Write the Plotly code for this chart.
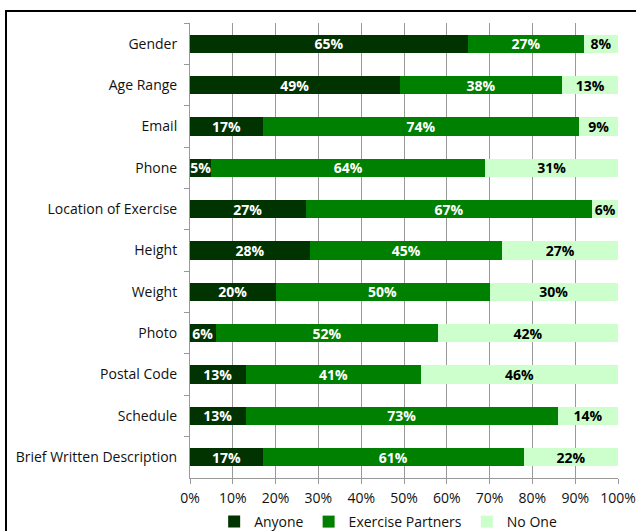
import plotly.graph_objects as go

categories = ["Gender", "Age Range", "Email", "Phone", "Location of Exercise", "Height",
              "Weight", "Photo", "Postal Code", "Schedule", "Brief Written Description"]
anyone = [65, 49, 17, 5, 27, 28, 20, 6, 13, 13, 17]
partners = [27, 38, 74, 64, 67, 45, 50, 52, 41, 73, 61]
no_one = [8, 13, 9, 31, 6, 27, 30, 42, 46, 14, 22]
x_ticks = [0, 10, 20, 30, 40, 50, 60, 70, 80, 90, 100]

series = [("Anyone", anyone, "#003300", "white"),
          ("Exercise Partners", partners, "#008000", "white"),
          ("No One", no_one, "#CCFFCC", "black")]

FONT = "Open Sans"

fig = go.Figure()
for name, vals, col, tcol in series:
    fig.add_trace(go.Bar(
        y=categories, x=vals, name=name, orientation="h",
        marker=dict(color=col, line=dict(width=0)),
        text=[f"{v}%" for v in vals], textposition="inside",
        insidetextanchor="middle",
        textfont=dict(color=tcol, size=14, family=FONT, weight="bold"),
        width=0.44,
    ))

L, R, T, B = 190, 18, 23, 53
W, H = 636, 531
pw, ph = W - L - R, H - T - B

fig.update_layout(
    barmode="stack", width=W, height=H,
    margin=dict(l=L, r=R, t=T, b=B, autoexpand=False),
    plot_bgcolor="white", paper_bgcolor="white",
    font=dict(family=FONT, size=14, color="#111"),
    uniformtext=dict(minsize=14, mode="show"),
    legend=dict(orientation="h", x=0.463, xanchor="center", yref="container",
                y=(H - 522) / H, yanchor="middle",
                font=dict(size=14), itemwidth=30, traceorder="normal"),
    xaxis=dict(range=[0, 100], tickvals=x_ticks, ticktext=[f"{v}%" for v in x_ticks],
               showgrid=True, gridcolor="#999", gridwidth=1, zeroline=False,
               showline=True, linecolor="#999", ticks="outside", ticklen=5, tickcolor="#999",
               ticklabelstandoff=2, automargin=False, fixedrange=True),
    yaxis=dict(categoryorder="array", categoryarray=categories, autorange="reversed",
               showline=True, linecolor="#999", ticks="outside", ticklen=5, tickcolor="#999",
               tickson="boundaries", ticklabelstandoff=9, showgrid=False, automargin=False),
    bargap=0.56,
)

fig.add_shape(type="rect", xref="paper", yref="paper",
              x0=(6 - L) / pw, x1=(W + 10 - L) / pw,
              y0=(H - B - (H + 10)) / ph, y1=(H - B - 11) / ph,
              line=dict(color="black", width=2), fillcolor="rgba(0,0,0,0)", layer="above")

fig.write_html("out.html")
